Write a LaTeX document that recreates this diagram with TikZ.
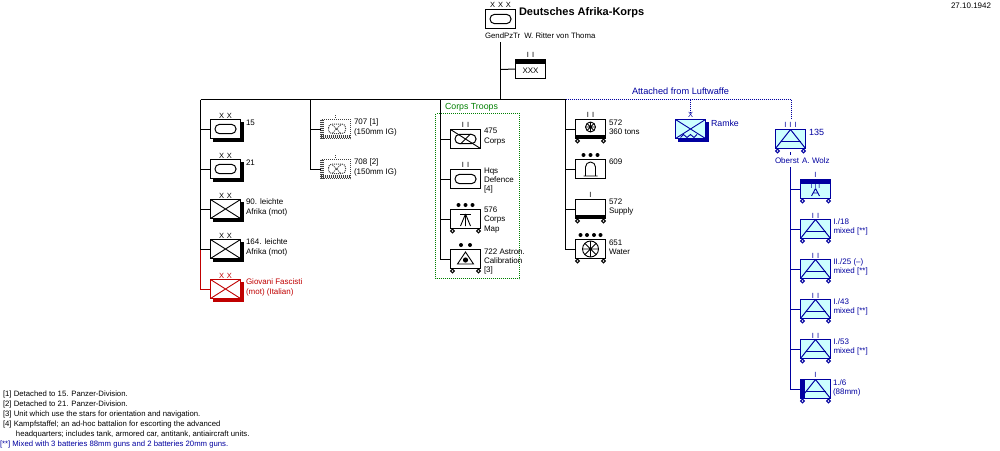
\documentclass[tikz,border=0pt]{standalone}
\usepackage{fontspec}
\setmainfont{Liberation Sans}
\usetikzlibrary{shadows}
\definecolor{navy}{RGB}{0,0,160}
\definecolor{redu}{RGB}{192,0,0}
\definecolor{greenu}{RGB}{0,128,0}
\definecolor{cyanu}{RGB}{204,255,255}
\tikzset{
  x=1pt,y=-1pt,
  every path/.style={line width=1pt},
  ubox/.style={draw,fill=white,rectangle,anchor=north west,minimum width=30pt,minimum height=19pt,inner sep=0pt,outer sep=0pt,line width=1pt},
  shblack/.style={general shadow={fill=black,draw=black,shadow xshift=3pt,shadow yshift=-3pt}},
  shred/.style={general shadow={fill=redu,draw=redu,shadow xshift=3pt,shadow yshift=-3pt}},
  shblue/.style={general shadow={fill=navy,draw=navy,shadow xshift=3pt,shadow yshift=-3pt}},
  rbox/.style={draw=redu},
  bbox/.style={draw=navy,fill=cyanu},
  gbox/.style={draw=none,fill=none},
  lbl/.style={anchor=west,inner sep=0pt,outer sep=0pt,align=left,font=\fontsize{8}{9.4}\selectfont},
  fnl/.style={lbl,font=\fontsize{7.75}{9}\selectfont},
  tickm/.style={inner sep=0pt,outer sep=0pt,font=\fontsize{7.5}{8}\selectfont},
  conn/.style={line width=1pt,draw=black},
  dotl/.style={line width=1pt,dash pattern=on 1pt off 1pt},
  thinsym/.style={line width=0.9pt},
}
\newcommand\ubx[4][]{\node[ubox,#1] (#2) at (#3.5,#4.5) {};}
\newcommand\XX{X\hspace{2.8pt}X}
\newcommand\XXX{X\hspace{2.8pt}X\hspace{2.8pt}X}
\newcommand\III{I\hspace{3pt}I}
\newcommand\IIII{I\hspace{3pt}I\hspace{3pt}I}
\newcommand\wheels[2][black]{%
  \draw[#1,fill=white] (#2.south west) ++(2,2.5) circle (1.9);
  \draw[#1,fill=white] (#2.south east) ++(-2,2.5) circle (1.9);}
\newcommand\band[2][black]{\fill[#1] (#2.south west) ++(0,-3.5) rectangle (#2.south east);}
\newcommand\topband[2][black]{\fill[#1] (#2.north west) rectangle ([yshift=-4pt]#2.north east);}
\newcommand\ovalsym[2][black]{\draw[#1,rounded corners=4.4pt] (#2.center) ++(-10.5,-4.6) rectangle ++(21,9.2);}
\newcommand\crossx[2][black]{\draw[#1,thinsym] (#2.north west) -- (#2.south east) (#2.north east) -- (#2.south west);}
\newcommand\trisym[1]{\draw[navy] (#1.north) -- (#1.south west) (#1.north) -- (#1.south east);
  \draw[navy] (#1.center) ++(-10,2.5) -- ++(20,0);}
\begin{document}
\begin{tikzpicture}
\useasboundingbox (0,0) rectangle (1000,450);
\fill[white] (0,0) rectangle (1000,450);
% ---- coordinates of trunks
\coordinate (top) at (500.5,42);
\coordinate (junc) at (500.5,99.5);
\coordinate (b1) at (200.5,99.5);
\coordinate (b2) at (310.5,99.5);
\coordinate (b3) at (440.5,99.5);
\coordinate (b4) at (565.5,99.5);
\coordinate (b5) at (690.5,99.5);
\coordinate (b6) at (791.5,99.5);
\coordinate (b1red) at (200.5,249.5);
% ---- date and title
\node[lbl] (date) at (951,6) {27.10.1942};
\ubx{hq}{485}{9}
\ovalsym{hq}
\node[tickm] (hqm) at (500.5,5) {\XXX};
\node[lbl,font=\bfseries\fontsize{11}{12}\selectfont] (title) at (519,12.5) {Deutsches Afrika-Korps};
\node[lbl,font=\fontsize{7.8}{9}\selectfont] (cmd) at (485,35.5) {GendPzTr\hspace{4pt}W. Ritter von Thoma};
\ubx{staff}{515}{59}
\topband{staff}
\node[tickm] (staffm) at (530.5,55) {\III};
\node[tickm,font=\fontsize{8}{9}\selectfont] (staffx) at (530.5,70.5) {XXX};
\draw[conn] (top) -- (junc);
\draw[conn] (staff.west) -- (500.5,69.5);
\draw[conn] (b1) -- (b4);
\draw[conn] (junc) -- (b1);
% ---- branch 1
\ubx[shblack]{d15}{210}{119}\ovalsym{d15}
\ubx[shblack]{d21}{210}{159}\ovalsym{d21}
\ubx[shblack]{d90}{210}{199}\crossx{d90}
\ubx[shblack]{d164}{210}{239}\crossx{d164}
\ubx[shred,rbox]{dgf}{210}{279}\crossx[redu]{dgf}
\foreach \n/\y in {a/115.5,b/155.5,c/195.5,d/235.5}{\node[tickm] (m\n) at (225.5,\y) {\XX};}
\node[tickm,text=redu] (me) at (225.5,275.5) {\XX};
\node[lbl] (t15) at (246,123) {15};
\node[lbl] (t21) at (246,163) {21};
\node[lbl] (t90) at (246,207.5) {90. leichte\\Afrika (mot)};
\node[lbl] (t164) at (246,247.5) {164. leichte\\Afrika (mot)};
\node[lbl,text=redu] (tgf) at (246,287.5) {Giovani Fascisti\\(mot) (Italian)};
\draw[conn] (b1) -- (b1red);
\draw[conn] (b1 |- d15.west) -- (d15.west);
\draw[conn] (b1 |- d21.west) -- (d21.west);
\draw[conn] (b1 |- d90.west) -- (d90.west);
\draw[conn] (b1 |- d164.west) -- (d164.west);
\draw[conn,draw=redu] (b1red) |- (dgf.west);
% ---- branch 2
\foreach \nm/\tp in {r707/119,r708/159}{
  \node[ubox,gbox] (\nm) at (320.5,\tp.5) {};
  \draw[dotl,black!75] (\nm.north west) rectangle (\nm.south east);
  \foreach \i in {1,2,3}{
    \draw[dotl,black!75] ([xshift=\i pt]\nm.north west) -- ([xshift=\i pt]\nm.south west);
    \draw[dotl,black!75] ([yshift=\i pt]\nm.south west) -- ([yshift=\i pt]\nm.south east);}
  \draw[dotl,black!75,rounded corners=3.5pt] (\nm.center) ++(-7,-5) rectangle ++(17,9.5);
  \draw[dotl,black!75] (\nm.center) ++(-3,-4) -- ++(8,8) ++(0,-8) -- ++(-8,8);
  \draw[dotl,black!75] (\nm.north) ++(0,-2) -- ++(0,-3);
}
\node[lbl] (t707) at (354,127.5) {707 [1]\\(150mm IG)};
\node[lbl] (t708) at (354,167.5) {708 [2]\\(150mm IG)};
\draw[conn] (b2) |- (r708.west);
\draw[conn] (b2 |- r707.west) -- (r707.west);
% ---- branch 3
\draw[greenu,dotl] (435.5,113.5) rectangle (519.5,278.5);
\node[lbl,text=greenu,font=\fontsize{8.8}{10}\selectfont] (tct) at (445,107) {Corps Troops};
\ubx{c475}{450}{129}
\ovalsym{c475}
\draw[thinsym] (c475.north west) -- (c475.south east);
\draw[thinsym] (c475.center) ++(-5,5) -- ++(10,-10);
\node[tickm] (m475) at (465.5,125) {\III};
\ubx{chq}{450}{169}\ovalsym{chq}
\node[tickm] (mhq) at (465.5,165) {\III};
\ubx{c576}{450}{209}
\draw[thinsym] (c576.center) ++(-5.5,-5) -- ++(11,0);
\draw[thinsym] (c576.center) ++(0,-5) -- ++(-5,12) (c576.center) ++(0,-5) -- ++(5,12) (c576.center) ++(0,-5) -- ++(0,12);
\wheels{c576}
\foreach \dx in {-7,0,7}{\fill (c576.north) ++(\dx,-4.5) circle (2);}
\ubx{c722}{450}{249}
\draw[thinsym] (c722.center) ++(0,-7) -- ++(-8,12) -- ++(16,0) -- cycle;
\fill (c722.center) ++(0,1) circle (2.6);
\wheels{c722}
\foreach \dx in {-4.5,4.5}{\fill (c722.north) ++(\dx,-4.5) circle (2);}
\node[lbl] (t475) at (484,136.5) {475\\Corps};
\node[lbl] (thq) at (484,180.5) {Hqs\\Defence\\{[4]}};
\node[lbl] (t576) at (484,220) {576\\Corps\\Map};
\node[lbl] (t722) at (484,261.5) {722 Astron.\\Calibration\\{[3]}};
\draw[conn] (b3) |- (c722.west);
\draw[conn] (b3 |- c475.west) -- (c475.west);
\draw[conn] (b3 |- chq.west) -- (chq.west);
\draw[conn] (b3 |- c576.west) -- (c576.west);
% ---- branch 4
\ubx{s572}{575}{119}\band{s572}\wheels{s572}
\draw[thinsym] (s572.center) ++(0,-2) circle (5);
\draw[thinsym] (s572.center) ++(-5,-2) -- ++(10,0) (s572.center) ++(0,-7) -- ++(0,10) (s572.center) ++(-3.5,-5.5) -- ++(7,7) (s572.center) ++(3.5,-5.5) -- ++(-7,7);
\node[tickm] (m572) at (590.5,115) {\III};
\ubx{s609}{575}{159}
\draw[thinsym] (s609.center) ++(-7,7) -- ++(14,0) (s609.center) ++(-5,7) -- ++(0,-9) arc[start angle=180,end angle=360,radius=5] -- ++(0,9);
\foreach \dx in {-7,0,7}{\fill (s609.north) ++(\dx,-4.5) circle (2);}
\ubx{s572b}{575}{199}\band{s572b}\wheels{s572b}
\node[tickm] (m572b) at (590.5,195) {I};
\ubx{s651}{575}{239}\wheels{s651}
\draw[thinsym] (s651.center) circle (8);
\draw[thinsym] (s651.center) ++(-8,0) -- ++(16,0) (s651.center) ++(0,-8) -- ++(0,16) (s651.center) ++(-5.7,-5.7) -- ++(11.4,11.4) (s651.center) ++(5.7,-5.7) -- ++(-11.4,11.4);
\foreach \dx in {-10,-3.5,3.5,10}{\fill (s651.north) ++(\dx,-4.5) circle (2);}
\node[lbl] (t572) at (609,127) {572\\360 tons};
\node[lbl] (t609) at (609,162) {609};
\node[lbl] (t572b) at (609,207) {572\\Supply};
\node[lbl] (t651) at (609,247.5) {651\\Water};
\draw[conn] (b4) |- (s651.west);
\draw[conn] (b4 |- s572.west) -- (s572.west);
\draw[conn] (b4 |- s609.west) -- (s609.west);
\draw[conn] (b4 |- s572b.west) -- (s572b.west);
% ---- Luftwaffe
\node[lbl,text=navy,font=\fontsize{9.2}{10}\selectfont] (tatt) at (632,91) {Attached from Luftwaffe};
\draw[dotl,navy] (b4) -- (b6);
\ubx[shblue,bbox]{ramke}{675}{119}
\crossx[navy]{ramke}
\draw[navy,thinsym] (ramke.south) ++(-10,-1) -- ++(3,-3) -- ++(3.5,3) -- ++(3.5,-3) -- ++(3.5,3) -- ++(3,-3);
\node[tickm,text=navy] (mr) at (690.5,115) {X};
\node[lbl,text=navy,font=\fontsize{8.8}{10}\selectfont] (tramke) at (711,123) {Ramke};
\draw[dotl,navy] (b5) -- (690.5,112);
\ubx[bbox]{f135}{775}{129}
\trisym{f135}\wheels[navy]{f135}
\node[tickm,text=navy] (m135) at (790.5,125) {\IIII};
\node[lbl,text=navy,font=\fontsize{9}{10}\selectfont] (t135) at (809,132.5) {135};
\draw[dotl,navy] (b6) -- (791.5,118);
\coordinate (tickt) at (790.5,152);
\coordinate (tickb) at (790.5,155);
\draw[navy] (tickt) -- (tickb);
\node[lbl,text=navy] (tob) at (775,161) {Oberst\hspace{1pt} A. Wolz};
\coordinate (ft) at (790.5,167);
\ubx[bbox]{fa}{800}{179}\topband[navy]{fa}\wheels[navy]{fa}
\node[tickm,text=navy] (mfa) at (815.5,175) {I};
\node[tickm,text=navy,font=\fontsize{6.5}{7}\selectfont] (mfa2) at (815.5,186) {I\hspace{2pt}I\hspace{2pt}I};
\draw[navy,thinsym] (fa.center) ++(0,-0.5) -- ++(-4,7.5) (fa.center) ++(0,-0.5) -- ++(4,7.5) (fa.center) ++(-2.5,4) -- ++(5,0);
\foreach \nm/\tp/\la/\lb in {f18/219/{I./18}/{mixed [**]},f25/259/{II./25 (--)}/{mixed [**]},f43/299/{I./43}/{mixed [**]},f53/339/{I./53}/{mixed [**]}}{
  \node[ubox,bbox] (\nm) at (800.5,\tp.5) {};
  \trisym{\nm}\wheels[navy]{\nm}
  \node[tickm,text=navy] (m\nm) at ([yshift=4pt]\nm.north) {\III};
  \node[lbl,text=navy] (t\nm) at ([xshift=3pt,yshift=2pt]\nm.east) {\la\\\lb};
}
\ubx[bbox]{f6}{800}{379}
\fill[navy] (f6.north west) rectangle ([xshift=4pt]f6.south west);
\trisym{f6}\wheels[navy]{f6}
\node[tickm,text=navy] (mf6) at (815.5,375) {I};
\node[lbl,text=navy] (tf6) at (833,388) {1./6\\(88mm)};
\draw[conn,draw=navy] (ft) |- (f6.west);
\foreach \nm in {fa,f18,f25,f43,f53}{\draw[conn,draw=navy] (ft |- \nm.west) -- (\nm.west);}
% ---- footnotes
\node[fnl] (fn1) at (3,394) {[1] Detached to 15. Panzer-Division.};
\node[fnl] (fn2) at (3,404) {[2] Detached to 21. Panzer-Division.};
\node[fnl] (fn3) at (3,414) {[3] Unit which use the stars for orientation and navigation.};
\node[fnl] (fn4) at (3,424) {[4] Kampfstaffel; an ad-hoc battalion for escorting the advanced};
\node[fnl] (fn5) at (16,434) {headquarters; includes tank, armored car, antitank, antiaircraft units.};
\node[fnl,text=navy] (fn6) at (0,444) {[**] Mixed with 3 batteries 88mm guns and 2 batteries 20mm guns.};
\end{tikzpicture}
\end{document}
